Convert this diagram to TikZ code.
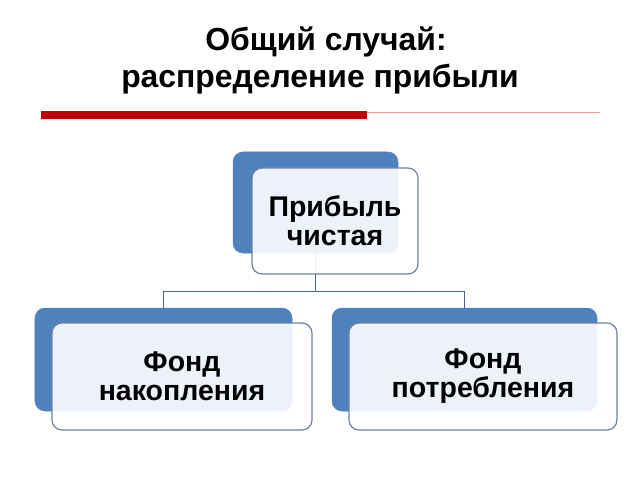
\documentclass[tikz,border=0pt]{standalone}
\usepackage{fontspec}
\setmainfont{Liberation Sans}
\definecolor{backblue}{HTML}{4F81BD}
\definecolor{frontedge}{HTML}{6F80A0}
\definecolor{linkcol}{HTML}{4A6690}
\definecolor{redbar}{HTML}{C00000}
\definecolor{pinkline}{HTML}{E6A0A0}
\begin{document}
\begin{tikzpicture}[x=1bp,y=-1bp,
  back/.style={fill=backblue, draw=backblue, line width=0.5bp, rounded corners=10bp,
    inner sep=0pt, outer sep=0pt},
  front/.style={fill=white, fill opacity=0.9, text opacity=1, draw=frontedge, draw opacity=1,
    line width=1.2bp, rounded corners=10bp, inner sep=0pt, outer sep=0pt,
    align=center, font=\bfseries\fontsize{28.6}{29}\selectfont},
  titletext/.style={font=\bfseries\fontsize{32}{36}\selectfont, anchor=base, inner sep=0pt},
  link/.style={draw=linkcol, line width=0.9bp}]
\useasboundingbox (0,0) rectangle (640,480);
% title
\node[titletext] (t1) at (326,51) {Общий случай:};
\node[titletext] (t2) at (320,88) {распределение прибыли};
% rule
\fill[redbar] (41,111.5) rectangle (367,119.5);
\draw[pinkline, line width=0.8bp] (367,112) -- (600,112);
% back boxes
\node[back, minimum width=165bp, minimum height=101bp] (tb) at (315.5,202.5) {};
\node[back, minimum width=257bp, minimum height=103bp] (lb) at (163.5,359.5) {};
\node[back, minimum width=265bp, minimum height=103bp] (rb) at (464.5,359.5) {};
% connectors
\coordinate (j) at (315.5,291);
\draw[link] (tb.south) -- (j) -| (lb.north);
\draw[link] (j) -| (rb.north);
% front boxes
\node[front, minimum width=166bp, minimum height=106bp] (tf) at (335,221) {Прибыль\\чистая};
\node[front, minimum width=260bp, minimum height=107bp] (lf) at (182,376.5) {Фонд\\накопления};
\node[front, minimum width=268bp, minimum height=107bp] (rf) at (483,376.5) {Фонд\\потребления};
\end{tikzpicture}
\end{document}
